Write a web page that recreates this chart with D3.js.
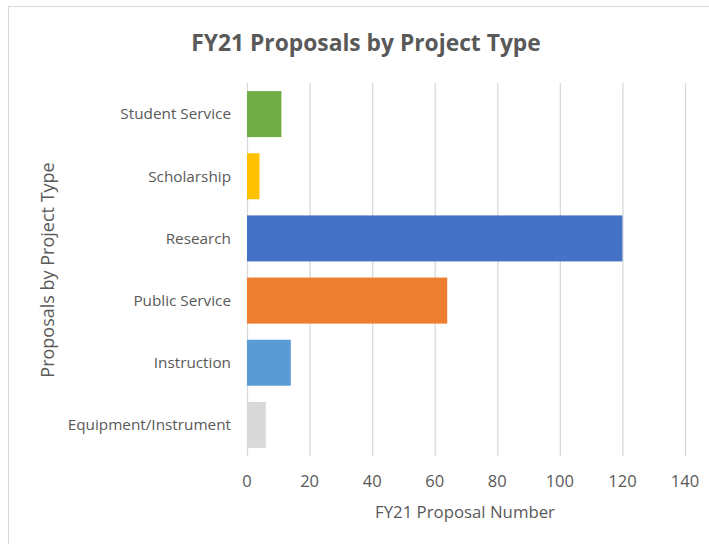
<!DOCTYPE html>
<html lang="en">
<head>
<meta charset="UTF-8">
<title>FY21 Proposals by Project Type</title>
<script src="https://cdn.jsdelivr.net/npm/d3@7"></script>
<style>
  body { margin: 0; background: #fff; }
  svg { display: block; font-family: "Open Sans", "Noto Sans", sans-serif; }
</style>
</head>
<body>
<div id="chart"></div>
<script>
// data, top to bottom as shown
var categories = ["Student Service", "Scholarship", "Research", "Public Service", "Instruction", "Equipment/Instrument"];
var values = [11, 4, 120, 64, 14, 6];
var barColors = ["#70AD47", "#FFC000", "#4472C4", "#ED7D31", "#5B9BD5", "#D9D9D9"];
var xTicks = [0, 20, 40, 60, 80, 100, 120, 140];

var width = 709, height = 544;
var margin = {top: 83, right: 24, bottom: 88, left: 247};

var svg = d3.select("#chart").append("svg")
    .attr("width", width)
    .attr("height", height);

// chart frame
svg.append("rect")
    .attr("x", 8.5).attr("y", 6.5)
    .attr("width", width + 10).attr("height", height + 10)
    .attr("fill", "none")
    .attr("stroke", "#D9D9D9");

var x = d3.scaleLinear().domain([0, 140]).range([margin.left, width - margin.right]);
var y = d3.scaleBand().domain(categories)
    .range([margin.top, height - margin.bottom])
    .paddingInner(0.26).paddingOuter(0.13);

// gridlines
svg.append("g").selectAll("line")
    .data(xTicks)
    .enter().append("line")
    .attr("x1", function(d){ return x(d) + 0.5; })
    .attr("x2", function(d){ return x(d) + 0.5; })
    .attr("y1", margin.top)
    .attr("y2", height - margin.bottom)
    .attr("stroke", "#D9D9D9")
    .attr("stroke-width", 1.3);

// bars
svg.append("g").selectAll("rect")
    .data(categories)
    .enter().append("rect")
    .attr("x", x(0))
    .attr("y", function(d){ return y(d); })
    .attr("width", function(d, i){ return x(values[i]) - x(0); })
    .attr("height", y.bandwidth())
    .attr("fill", function(d, i){ return barColors[i]; });

// x tick labels
svg.append("g").selectAll("text")
    .data(xTicks)
    .enter().append("text")
    .attr("x", function(d){ return x(d); })
    .attr("y", 487)
    .attr("text-anchor", "middle")
    .attr("fill", "#595959")
    .attr("font-size", 16.5)
    .text(function(d){ return d; });

// category labels
svg.append("g").selectAll("text")
    .data(categories)
    .enter().append("text")
    .attr("x", 231)
    .attr("y", function(d){ return y(d) + y.bandwidth() / 2; })
    .attr("dy", "0.35em")
    .attr("text-anchor", "end")
    .attr("fill", "#595959")
    .attr("font-size", 15.3)
    .text(function(d){ return d; });

// title
svg.append("text")
    .attr("x", 366).attr("y", 51)
    .attr("text-anchor", "middle")
    .attr("fill", "#595959")
    .attr("font-size", 22.8)
    .attr("font-weight", "bold")
    .text("FY21 Proposals by Project Type");

// axis titles
svg.append("text")
    .attr("x", 465).attr("y", 518)
    .attr("text-anchor", "middle")
    .attr("fill", "#595959")
    .attr("font-size", 16.8)
    .text("FY21 Proposal Number");

svg.append("text")
    .attr("transform", "translate(54,270) rotate(-90)")
    .attr("text-anchor", "middle")
    .attr("fill", "#595959")
    .attr("font-size", 18)
    .text("Proposals by Project Type");
</script>
</body>
</html>
